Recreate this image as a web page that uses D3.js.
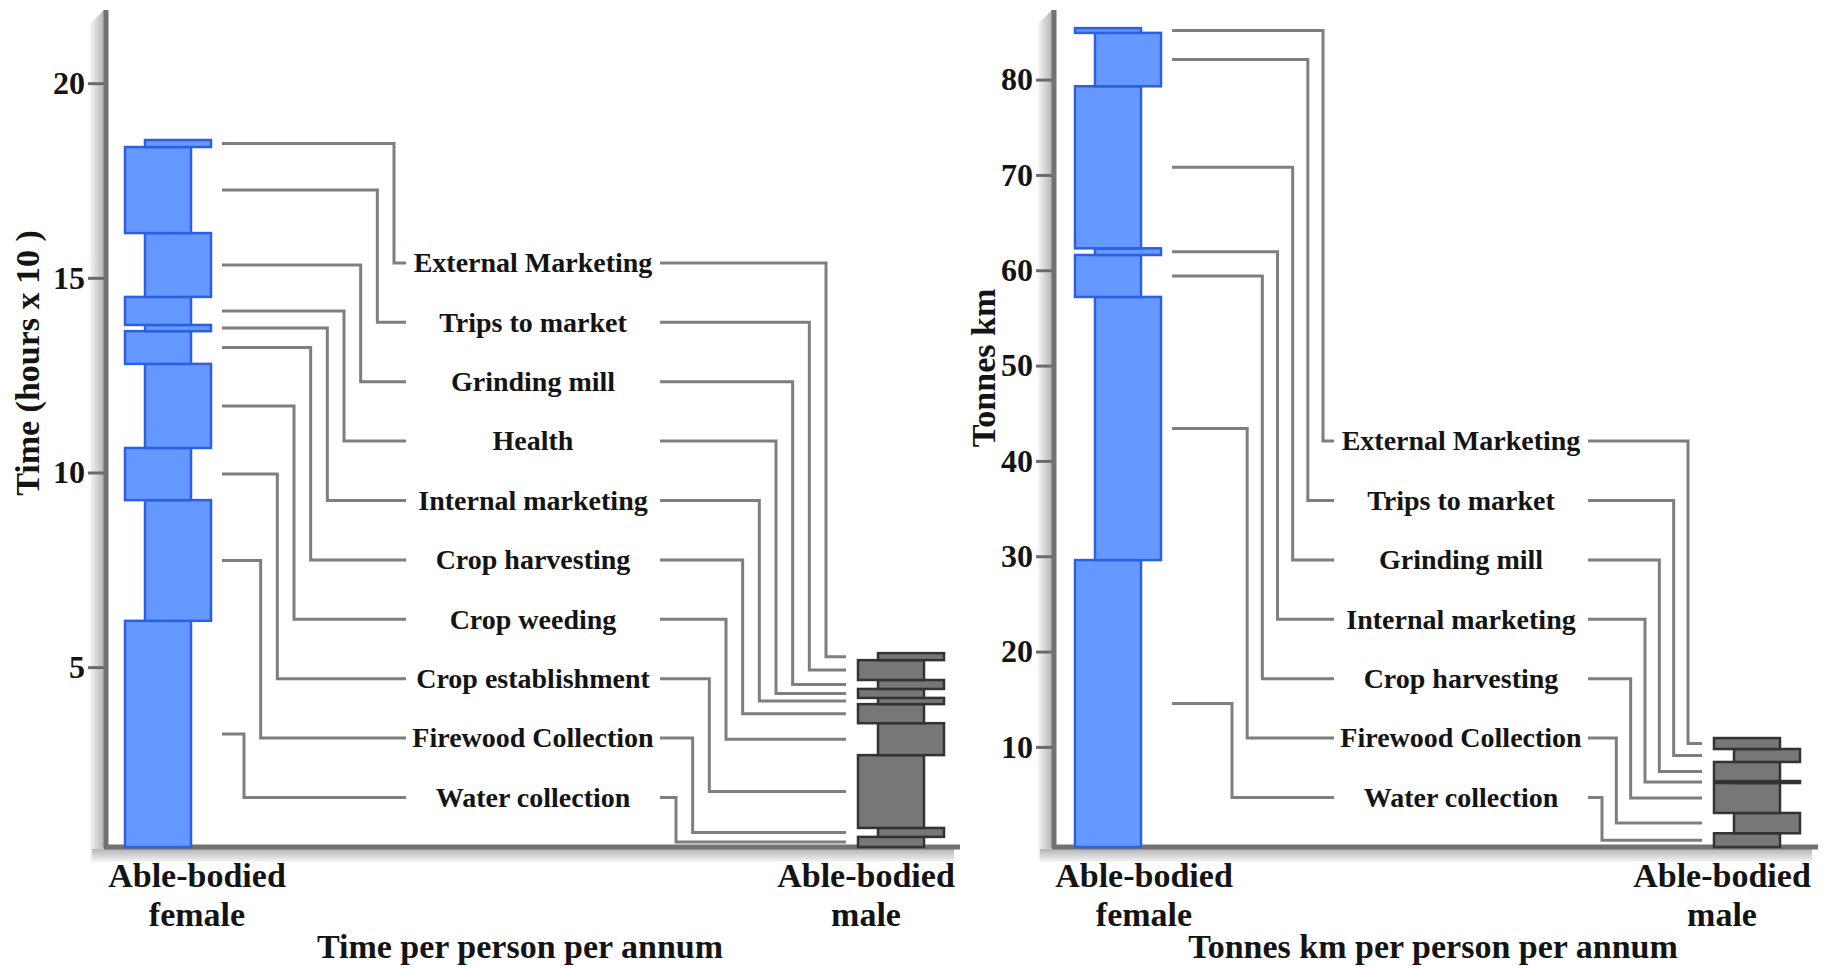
<!DOCTYPE html>
<html><head><meta charset="utf-8">
<script src="https://cdn.jsdelivr.net/npm/d3@7"></script>
<style>
body{margin:0;background:#fff}
svg{display:block}
text{font-family:"Liberation Serif","Times New Roman",serif;font-weight:bold;fill:#141414}
</style>
</head><body>
<svg id="chart" width="1827" height="968"></svg>
<script>
// ---------------- DATA ----------------
const groups = ["Able-bodied female", "Able-bodied male"];

// Panel 1: Time per person per annum (hours x 10^3), segments stacked bottom -> top
const timeActivities = ["Water collection","Firewood Collection","Crop establishment","Crop weeding","Crop harvesting","Internal marketing","Health","Grinding mill","Trips to market","External Marketing"];
const timeFemale = [6.19, 3.10, 1.34, 2.16, 0.84, 0.16, 0.72, 1.64, 2.21, 0.18];
const timeMale   = [0.64, 0.23, 1.87, 0.82, 0.49, 0.16, 0.23, 0.23, 0.51, 0.18];
const timeTicks  = [5, 10, 15, 20];

// Panel 2: Tonnes km per person per annum
const loadActivities = ["Water collection","Firewood Collection","Crop harvesting","Internal marketing","Grinding mill","Trips to market","External Marketing"];
const loadFemale = [29.6, 27.6, 4.4, 0.7, 17.0, 5.6, 0.5];
const loadMale   = [0.94, 2.13, 3.14, 0.21, 2.0, 1.36, 1.15];
const loadTicks  = [10, 20, 30, 40, 50, 60, 70, 80];

// ---------------- DRAWING ----------------
const svg = d3.select("#chart");
const defs = svg.append("defs");
const gV = defs.append("linearGradient").attr("id","shadeV").attr("x1",0).attr("x2",1).attr("y1",0).attr("y2",0);
gV.append("stop").attr("offset",0).attr("stop-color","#f6f6f6");
gV.append("stop").attr("offset",1).attr("stop-color","#b4b4b4");
const gH = defs.append("linearGradient").attr("id","shadeH").attr("x1",0).attr("x2",0).attr("y1",0).attr("y2",1);
gH.append("stop").attr("offset",0).attr("stop-color","#b4b4b4");
gH.append("stop").attr("offset",1).attr("stop-color","#f6f6f6");

const BOTTOM = 847, TOP = 10;
const BAR_W = 66, SHIFT = 20;
const ROW0 = 797.5, ROW_STEP = 59.4;

const panels = [
  {
    activities: timeActivities, female: timeFemale, male: timeMale, ticks: timeTicks,
    yDomain: [0.38, 21.88], axisX: 106, xEnd: 960,
    barCenters: [168, 901], labelCenters: [197, 866],
    midCenter: 533, femaleV: [244, 394], maleV: [676, 826],
    yTitle: "Time (hours x 10 )", yTitleX: 27, yTitleY: 363,
    xTitle: "Time per person per annum", xTitleX: 520
  },
  {
    activities: loadActivities, female: loadFemale, male: loadMale, ticks: loadTicks,
    yDomain: [-0.5, 87.3], axisX: 1054, xEnd: 1818,
    barCenters: [1118, 1757], labelCenters: [1144, 1722],
    midCenter: 1461, femaleV: [1232, 1323], maleV: [1602, 1688],
    yTitle: "Tonnes km", yTitleX: 983, yTitleY: 368,
    xTitle: "Tonnes km per person per annum", xTitleX: 1433
  }
];

function stackUp(vals){
  let s = 0;
  return vals.map((v,i)=>{ const lo = s; s += v; return {i, lo, hi: s}; });
}

panels.forEach(p => {
  const g = svg.append("g");
  const y = d3.scaleLinear().domain(p.yDomain).range([BOTTOM, TOP]).clamp(true);
  const xBar = d3.scalePoint().domain(groups).range(p.barCenters);
  const xLab = d3.scalePoint().domain(groups).range(p.labelCenters);
  const n = p.activities.length;
  const rowY = d3.scaleLinear().domain([0,1]).range([ROW0, ROW0 - ROW_STEP]);
  const vF = d3.scaleLinear().domain([0, n-1]).range(p.femaleV);
  const vM = d3.scaleLinear().domain([0, n-1]).range(p.maleV);
  const pix = d => ({top: y(d.hi), bot: d.lo === 0 ? y.range()[0] : y(d.lo)});

  // axis shadows
  const ax = p.axisX;
  g.append("polygon")
    .attr("points", [[ax-16, TOP+14],[ax-2, TOP],[ax-2, BOTTOM],[ax-16, BOTTOM+14]].map(d=>d.join(",")).join(" "))
    .attr("fill","url(#shadeV)");
  g.append("rect").attr("x", ax-14).attr("y", BOTTOM+2).attr("width", p.xEnd - ax + 8).attr("height", 13)
    .attr("fill","url(#shadeH)");

  // y axis ticks
  const yAxis = d3.axisLeft(y).tickValues(p.ticks).tickSize(18).tickPadding(3).tickFormat(d3.format("d"));
  const ag = g.append("g").attr("transform", `translate(${ax},0)`).call(yAxis);
  ag.select(".domain").remove();
  ag.selectAll(".tick line").attr("stroke","#6a6a6a").attr("stroke-width",3);
  ag.selectAll(".tick text").attr("font-size",32).attr("font-family","Liberation Serif").attr("font-weight","bold").attr("fill","#141414");

  // axis lines
  g.append("line").attr("x1", ax).attr("x2", ax).attr("y1", TOP).attr("y2", BOTTOM+2)
    .attr("stroke","#727272").attr("stroke-width",5);
  g.append("line").attr("x1", ax-2).attr("x2", p.xEnd).attr("y1", BOTTOM).attr("y2", BOTTOM)
    .attr("stroke","#727272").attr("stroke-width",5);

  // leaders + labels
  const fStack = stackUp(p.female);
  const mStack = stackUp(p.male);
  const labLeft = p.midCenter - 127, labRight = p.midCenter + 127;
  const fStart = xBar(groups[0]) - SHIFT - 3 + BAR_W + 11;
  const mEnd = xBar(groups[1]) - SHIFT - 23 - 12;

  p.activities.forEach((name, i) => {
    const ly = rowY(i);
    const fp = pix(fStack[i]);
    const mp = pix(mStack[i]);
    const fMid = (fp.top + fp.bot) / 2;
    const mMid = (mp.top + mp.bot) / 2;
    g.append("path")
      .attr("d", `M${fStart},${fMid}H${vF(i)}V${ly}H${labLeft}`)
      .attr("fill","none").attr("stroke","#7e7e7e").attr("stroke-width",3);
    g.append("path")
      .attr("d", `M${labRight},${ly}H${vM(i)}V${mMid}H${mEnd}`)
      .attr("fill","none").attr("stroke","#7e7e7e").attr("stroke-width",3);
    g.append("text").attr("x", p.midCenter).attr("y", ly).attr("dy","0.33em")
      .attr("text-anchor","middle").attr("font-size",28).text(name);
  });

  // bars
  const drawBar = (stack, grp, fill, stroke) => {
    const cx = xBar(grp);
    g.append("g").selectAll("rect").data(stack).join("rect")
      .attr("x", d => cx - SHIFT - 23 + (d.i % 2 === 0 ? 0 : SHIFT))
      .attr("width", BAR_W)
      .attr("y", d => pix(d).top)
      .attr("height", d => Math.max(0.5, pix(d).bot - pix(d).top))
      .attr("fill", fill).attr("stroke", stroke).attr("stroke-width", 2.5);
  };
  drawBar(fStack, groups[0], "#6699ff", "#2c5fe2");
  drawBar(mStack, groups[1], "#777777", "#333333");

  // category labels
  groups.forEach(grp => {
    const parts = grp.split(" ");
    const t = g.append("text").attr("text-anchor","middle").attr("font-size",34);
    t.append("tspan").attr("x", xLab(grp)).attr("y", 887).text(parts[0]);
    t.append("tspan").attr("x", xLab(grp)).attr("y", 926).text(parts[1]);
  });

  // axis titles
  g.append("text").attr("x", p.xTitleX).attr("y", 958).attr("text-anchor","middle")
    .attr("font-size",34).text(p.xTitle);
  g.append("text").attr("transform", `translate(${p.yTitleX},${p.yTitleY}) rotate(-90)`)
    .attr("text-anchor","middle").attr("dy","0.35em").attr("font-size",34).text(p.yTitle);
});
</script>
</body></html>
